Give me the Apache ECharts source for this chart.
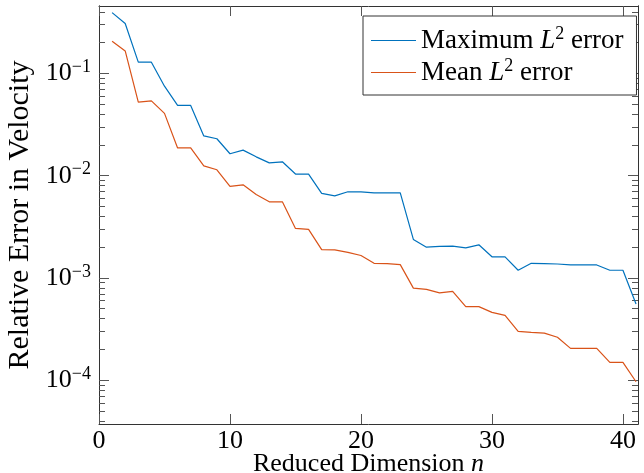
<!DOCTYPE html>
<html>
<head>
<meta charset="utf-8">
<script src="https://cdn.jsdelivr.net/npm/echarts@6/dist/echarts.min.js"></script>
<style>
  html, body { margin: 0; padding: 0; background: #fff; }
  #chart { width: 644px; height: 473px; }
</style>
</head>
<body>
<div id="chart"></div>
<script>
// reduced dimension n
const dims = [1, 2, 3, 4, 5, 6, 7, 8, 9, 10, 11, 12, 13, 14, 15, 16, 17, 18, 19, 20,
  21, 22, 23, 24, 25, 26, 27, 28, 29, 30, 31, 32, 33, 34, 35, 36, 37, 38, 39, 40, 41]
// maximum L2 error
const maxErr = [0.394, 0.308, 0.129, 0.129, 0.0751, 0.0487, 0.0487, 0.0245, 0.023, 0.0164,
  0.0178, 0.0153, 0.01336, 0.01368, 0.01038, 0.01038, 0.00671, 0.00636, 0.00697, 0.00695,
  0.0068, 0.0068, 0.0068, 0.00238, 0.002, 0.00204, 0.00205, 0.00197, 0.00211, 0.00161,
  0.00161, 0.00119, 0.00139, 0.00138, 0.00137, 0.00134, 0.00134, 0.00134, 0.00119, 0.00119,
  0.000556]
// mean L2 error
const meanErr = [0.207, 0.166, 0.0524, 0.054, 0.0407, 0.0187, 0.0187, 0.0125, 0.01143, 0.00785,
  0.00815, 0.00656, 0.00556, 0.00556, 0.00305, 0.00299, 0.00189, 0.00188, 0.00178, 0.00166,
  0.00139, 0.00138, 0.00135, 0.000796, 0.000774, 0.000716, 0.00074, 0.000524, 0.000524, 0.000461,
  0.000431, 0.0003, 0.000294, 0.000289, 0.000263, 0.000205, 0.000205, 0.000205, 0.0001496, 0.0001496,
  0.0000966]

const xTicks = [0, 10, 20, 30, 40]
const yMajor = [1e-4, 1e-3, 1e-2, 1e-1]
const yExp = { 0.0001: '−4', 0.001: '−3', 0.01: '−2', 0.1: '−1' }
const yMinor = [4e-5, 5e-5, 6e-5, 7e-5, 8e-5, 9e-5,
  2e-4, 3e-4, 4e-4, 5e-4, 6e-4, 7e-4, 8e-4, 9e-4,
  2e-3, 3e-3, 4e-3, 5e-3, 6e-3, 7e-3, 8e-3, 9e-3,
  2e-2, 3e-2, 4e-2, 5e-2, 6e-2, 7e-2, 8e-2, 9e-2,
  2e-1, 3e-1, 4e-1]

const FONT = 'Liberation Serif'
const X_MIN = 0, X_MAX = 41.15
const Y_MIN = 3.73e-5, Y_MAX = 0.457
const frame = '#333'

function rich(size) {
  return {
    b: { fontFamily: FONT, fontSize: size, color: '#000', lineHeight: size + 4 },
    i: { fontFamily: FONT, fontSize: size, color: '#000', fontStyle: 'italic', lineHeight: size + 4 },
    s: { fontFamily: FONT, fontSize: Math.round(size * 0.68), color: '#000', lineHeight: Math.round(size * 0.7), verticalAlign: 'top' },
  }
}

function yAxisOf(pos, ticks, len, showLabel) {
  return {
    type: 'log',
    logBase: 10,
    min: Y_MIN,
    max: Y_MAX,
    position: pos,
    axisLine: { show: true, lineStyle: { color: frame, width: 1 } },
    axisTick: { show: true, inside: true, length: len, customValues: ticks, lineStyle: { color: '#555', width: 1 } },
    axisLabel: showLabel ? {
      customValues: yMajor,
      margin: 8,
      formatter: function (v) {
        return '{b|10}{s|' + (yExp[v] || '') + '}'
      },
      rich: rich(26),
    } : { show: false },
    splitLine: { show: false },
    minorTick: { show: false },
  }
}

function xAxisOf(pos, showLabel) {
  return {
    type: 'value',
    min: X_MIN,
    max: X_MAX,
    position: pos,
    axisLine: { show: true, lineStyle: { color: frame, width: 1 } },
    axisTick: { show: true, inside: true, length: 10, customValues: xTicks, lineStyle: { color: '#555', width: 1 } },
    axisLabel: showLabel ? {
      customValues: xTicks,
      margin: 4,
      fontFamily: FONT,
      fontSize: 26,
      color: '#000',
    } : { show: false },
    splitLine: { show: false },
  }
}

const chart = echarts.init(document.getElementById('chart'))

const xBottom = xAxisOf('bottom', true)
xBottom.name = 'Reduced Dimension {i|n}'
xBottom.nameLocation = 'middle'
xBottom.nameGap = 25
xBottom.nameMoveOverlap = false
xBottom.nameTextStyle = { fontFamily: FONT, fontSize: 26, color: '#000', rich: rich(26) }

const yLeft = yAxisOf('left', yMajor, 10, true)
yLeft.name = 'Relative Error in Velocity'
yLeft.nameLocation = 'middle'
yLeft.nameGap = 64
yLeft.nameMoveOverlap = false
yLeft.nameTextStyle = { fontFamily: FONT, fontSize: 30, color: '#000' }

chart.setOption({
  animation: false,
  backgroundColor: '#fff',
  grid: { left: 99, right: 6, top: 6, bottom: 49, outerBoundsMode: 'none', containLabel: false },
  legend: {
    orient: 'vertical',
    left: 363,
    top: 16,
    padding: [9, 13, 9, 8],
    itemGap: 3,
    itemWidth: 45,
    itemHeight: 1.2,
    icon: 'rect',
    borderColor: frame,
    borderWidth: 1,
    backgroundColor: '#fff',
    textStyle: { fontFamily: FONT, fontSize: 27, color: '#000', rich: rich(27) },
    formatter: function (name) {
      return '{b|' + name.replace(' L2 ', ' }{i|L}{s|2}{b| ') + '}'
    },
    data: ['Maximum L2 error', 'Mean L2 error'],
  },
  xAxis: [xBottom, xAxisOf('top', false)],
  yAxis: [
    yLeft,
    yAxisOf('left', yMinor, 6, false),
    yAxisOf('right', yMajor, 10, false),
    yAxisOf('right', yMinor, 6, false),
  ],
  series: [
    {
      name: 'Maximum L2 error',
      type: 'line',
      xAxisIndex: 0,
      yAxisIndex: 0,
      symbol: 'none',
      lineStyle: { color: '#0072BD', width: 1.2 },
      itemStyle: { color: '#0072BD' },
      data: dims.map((n, i) => [n, maxErr[i]]),
    },
    {
      name: 'Mean L2 error',
      type: 'line',
      xAxisIndex: 0,
      yAxisIndex: 0,
      symbol: 'none',
      lineStyle: { color: '#D95319', width: 1.2 },
      itemStyle: { color: '#D95319' },
      data: dims.map((n, i) => [n, meanErr[i]]),
    },
  ],
})
</script>
</body>
</html>
